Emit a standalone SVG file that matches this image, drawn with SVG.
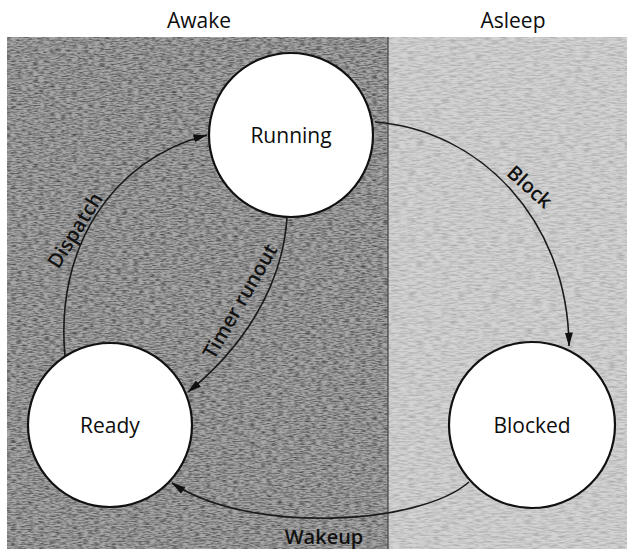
<svg xmlns="http://www.w3.org/2000/svg" width="627" height="549" viewBox="0 0 627 549">
  <style>
    .node { fill: #ffffff; stroke: #111111; stroke-width: 2.2; }
    .nlabel { font-family: "Open Sans", "Liberation Sans", sans-serif; font-size: 21px; fill: #0d0d0d; text-anchor: middle; }
    .hlabel { font-family: "Open Sans", "Liberation Sans", sans-serif; font-size: 21px; fill: #0d0d0d; text-anchor: middle; }
    .elabel { font-family: "Open Sans", "Liberation Sans", sans-serif; font-size: 20px; font-weight: 600; fill: #111111; text-anchor: middle; }
    .edge { fill: none; stroke: #1a1a1a; stroke-width: 1.6; marker-end: url(#arrow); }
  </style>
  <defs>
    <marker id="arrow" markerUnits="userSpaceOnUse" markerWidth="14" markerHeight="10" viewBox="0 0 14 10" refX="13.5" refY="5" orient="auto">
      <path d="M0,1 L14,5 L0,9 z" fill="#111111"/>
    </marker>
    <filter id="grainDark" x="0" y="0" width="100%" height="100%">
      <feTurbulence type="fractalNoise" baseFrequency="0.18 0.75" numOctaves="2" seed="4" result="n"/>
      <feColorMatrix in="n" type="matrix" values="0 0 0 0 0  0 0 0 0 0  0 0 0 0 0  1.1 0 0 0 -0.4" result="a"/>
      <feComposite in="a" in2="SourceGraphic" operator="in"/>
    </filter>
    <filter id="grainLight" x="0" y="0" width="100%" height="100%">
      <feTurbulence type="fractalNoise" baseFrequency="0.12 0.6" numOctaves="2" seed="9" result="n"/>
      <feColorMatrix in="n" type="matrix" values="0 0 0 0 0  0 0 0 0 0  0 0 0 0 0  0.4 0 0 0 -0.15" result="a"/>
      <feComposite in="a" in2="SourceGraphic" operator="in"/>
    </filter>
  </defs>

  <rect x="0" y="0" width="627" height="549" fill="#ffffff"/>

  <g id="regions">
    <rect x="7" y="37" width="381" height="512" fill="#a6a6a6"/>
    <rect x="7" y="37" width="381" height="512" fill="#000000" filter="url(#grainDark)"/>
    <rect x="388" y="37" width="239" height="512" fill="#d3d3d3"/>
    <rect x="388" y="37" width="239" height="512" fill="#000000" filter="url(#grainLight)"/>
    <line x1="388" y1="37" x2="388" y2="549" stroke="#444444" stroke-width="1.2"/>
    <text class="hlabel" x="199" y="28">Awake</text>
    <text class="hlabel" x="513" y="28">Asleep</text>
  </g>

  <g id="connectors">
    <g id="edge-dispatch">
      <path class="edge" d="M65,356 C55,250 110,160 207,135"/>
      <text class="elabel" transform="translate(81,234) rotate(-58)" x="0" y="0">Dispatch</text>
    </g>
    <g id="edge-timer">
      <path class="edge" d="M287,218 C282,290 240,350 188,392"/>
      <text class="elabel" transform="translate(246,305) rotate(-60)" x="0" y="0">Timer runout</text>
    </g>
    <g id="edge-block">
      <path class="edge" d="M375,122 C480,130 568,220 569,346"/>
      <text class="elabel" transform="translate(525,192) rotate(42)" x="0" y="0">Block</text>
    </g>
    <g id="edge-wakeup">
      <path class="edge" d="M469,482 C420,525 250,535 172,483"/>
      <text class="elabel" x="324" y="544">Wakeup</text>
    </g>
  </g>

  <g id="node-running">
    <circle class="node" cx="291" cy="135" r="82"/>
    <text class="nlabel" x="291" y="143">Running</text>
  </g>
  <g id="node-ready">
    <circle class="node" cx="110" cy="425" r="82"/>
    <text class="nlabel" x="110" y="433">Ready</text>
  </g>
  <g id="node-blocked">
    <circle class="node" cx="532" cy="425" r="83"/>
    <text class="nlabel" x="532" y="433">Blocked</text>
  </g>
</svg>
